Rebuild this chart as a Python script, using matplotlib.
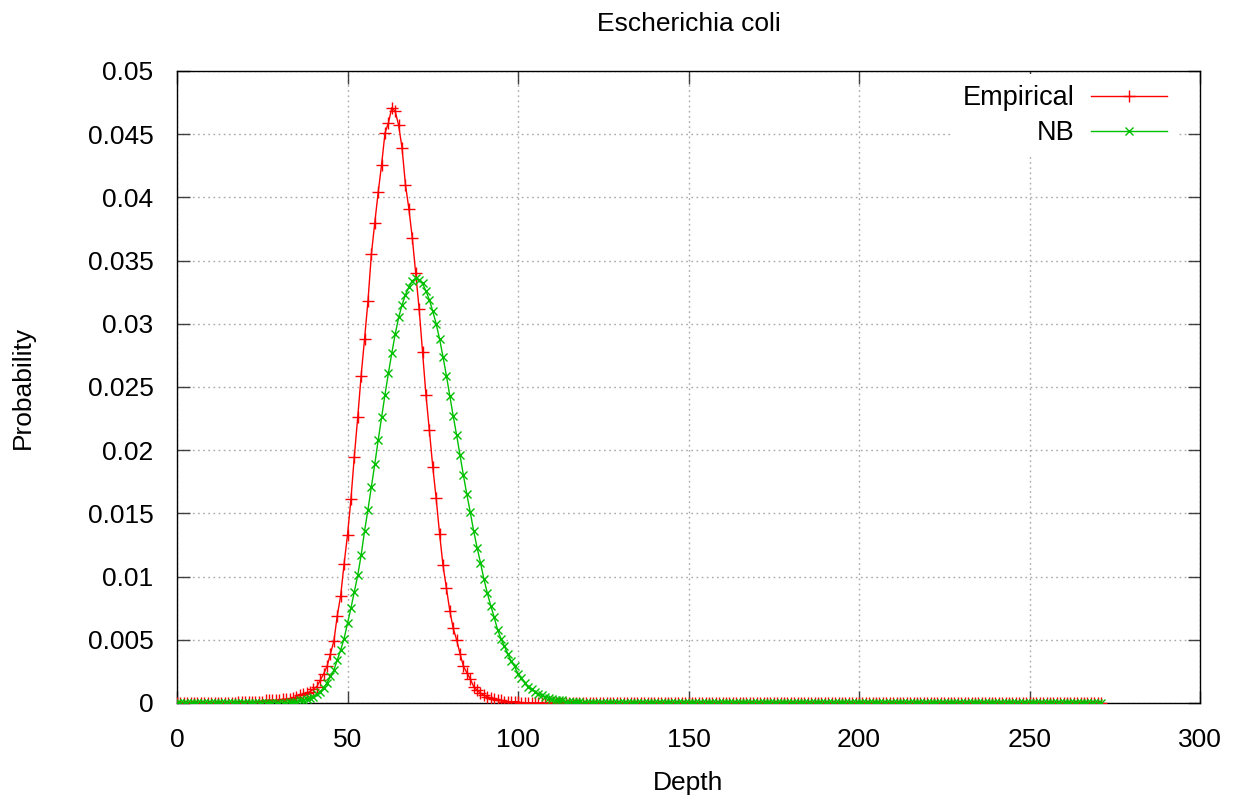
import numpy as np
import matplotlib
matplotlib.use("Agg")
import matplotlib.pyplot as plt

plt.rcParams['font.family'] = ['Liberation Sans', 'DejaVu Sans']

title = "Escherichia coli"
x_label = "Depth"
y_label = "Probability"
series_names = ["Empirical", "NB"]

depth = list(range(0, 272))

empirical = [
    0, 0, 0, 0, 0, 0, 0, 0, 0, 0,
    0, 0, 0, 0, 0, 0, 0, 0, 0.0001, 0.0001,
    0.0001, 0.0001, 0.0001, 0.0001, 0.0001, 0.0001, 0.0002, 0.0002, 0.0002, 0.0002,
    0.0002, 0.0003, 0.0003, 0.0003, 0.0004, 0.0005, 0.0006, 0.0007, 0.0008, 0.0009,
    0.0011, 0.0013, 0.0018, 0.0023, 0.0029, 0.0039, 0.0049, 0.0069, 0.0085, 0.0110,
    0.0133, 0.0161, 0.0195, 0.0226, 0.0259, 0.0288, 0.0318, 0.0355, 0.0380, 0.0404,
    0.0426, 0.0451, 0.0459, 0.0471, 0.0468, 0.0457, 0.0439, 0.0410, 0.0391, 0.0368,
    0.0340, 0.0312, 0.0278, 0.0244, 0.0216, 0.0187, 0.0162, 0.0134, 0.0109, 0.0091,
    0.0073, 0.0059, 0.0050, 0.0039, 0.0029, 0.0024, 0.0019, 0.0013, 0.0010, 0.0008,
    0.0006, 0.0005, 0.0004, 0.0003, 0.0002, 0.0002, 0.0001, 0.0001, 0.0001, 0.0001,
    0.0001, 0, 0, 0, 0, 0, 0, 0, 0, 0,
    0, 0, 0, 0, 0, 0, 0, 0, 0, 0,
    0, 0, 0, 0, 0, 0, 0, 0, 0, 0,
    0, 0, 0, 0, 0, 0, 0, 0, 0, 0,
    0, 0, 0, 0, 0, 0, 0, 0, 0, 0,
    0, 0, 0, 0, 0, 0, 0, 0, 0, 0,
    0, 0, 0, 0, 0, 0, 0, 0, 0, 0,
    0, 0, 0, 0, 0, 0, 0, 0, 0, 0,
    0, 0, 0, 0, 0, 0, 0, 0, 0, 0,
    0, 0, 0, 0, 0, 0, 0, 0, 0, 0,
    0, 0, 0, 0, 0, 0, 0, 0, 0, 0,
    0, 0, 0, 0, 0, 0, 0, 0, 0, 0,
    0, 0, 0, 0, 0, 0, 0, 0, 0, 0,
    0, 0, 0, 0, 0, 0, 0, 0, 0, 0,
    0, 0, 0, 0, 0, 0, 0, 0, 0, 0,
    0, 0, 0, 0, 0, 0, 0, 0, 0, 0,
    0, 0, 0, 0, 0, 0, 0, 0, 0, 0,
    0, 0,
]

nb = [
    0, 0, 0, 0, 0, 0, 0, 0, 0, 0,
    0, 0, 0, 0, 0, 0, 0, 0, 0, 0,
    0, 0, 0, 0, 0, 0, 0, 0, 0, 0,
    0, 0, 0, 0.0001, 0.0001, 0.0001, 0.0002, 0.0002, 0.0003, 0.0004,
    0.0005, 0.0007, 0.0009, 0.0012, 0.0016, 0.0021, 0.0026, 0.0034, 0.0042, 0.0051,
    0.0063, 0.0075, 0.0088, 0.0101, 0.0117, 0.0136, 0.0153, 0.0171, 0.0189, 0.0208,
    0.0226, 0.0244, 0.0261, 0.0277, 0.0292, 0.0305, 0.0315, 0.0323, 0.0329, 0.0334,
    0.0336, 0.0335, 0.0332, 0.0326, 0.0319, 0.0310, 0.0300, 0.0288, 0.0274, 0.0259,
    0.0243, 0.0227, 0.0212, 0.0196, 0.0180, 0.0165, 0.0151, 0.0136, 0.0123, 0.0111,
    0.0098, 0.0087, 0.0077, 0.0068, 0.0058, 0.0051, 0.0045, 0.0039, 0.0033, 0.0029,
    0.0023, 0.0020, 0.0016, 0.0013, 0.0011, 0.0009, 0.0007, 0.0006, 0.0005, 0.0004,
    0.0003, 0.0002, 0.0002, 0.0002, 0.0001, 0.0001, 0.0001, 0.0001, 0.0001, 0,
    0, 0, 0, 0, 0, 0, 0, 0, 0, 0,
    0, 0, 0, 0, 0, 0, 0, 0, 0, 0,
    0, 0, 0, 0, 0, 0, 0, 0, 0, 0,
    0, 0, 0, 0, 0, 0, 0, 0, 0, 0,
    0, 0, 0, 0, 0, 0, 0, 0, 0, 0,
    0, 0, 0, 0, 0, 0, 0, 0, 0, 0,
    0, 0, 0, 0, 0, 0, 0, 0, 0, 0,
    0, 0, 0, 0, 0, 0, 0, 0, 0, 0,
    0, 0, 0, 0, 0, 0, 0, 0, 0, 0,
    0, 0, 0, 0, 0, 0, 0, 0, 0, 0,
    0, 0, 0, 0, 0, 0, 0, 0, 0, 0,
    0, 0, 0, 0, 0, 0, 0, 0, 0, 0,
    0, 0, 0, 0, 0, 0, 0, 0, 0, 0,
    0, 0, 0, 0, 0, 0, 0, 0, 0, 0,
    0, 0, 0, 0, 0, 0, 0, 0, 0, 0,
    0, 0,
]

x_ticks = [0, 50, 100, 150, 200, 250, 300]
y_ticks = [0, 0.005, 0.01, 0.015, 0.02, 0.025, 0.03, 0.035, 0.04, 0.045, 0.05]
y_tick_labels = ["0", "0.005", "0.01", "0.015", "0.02", "0.025", "0.03",
                 "0.035", "0.04", "0.045", "0.05"]

W, H = 1238, 801
fig = plt.figure(figsize=(W / 100, H / 100), dpi=100)
ax = fig.add_axes([177 / W, 1 - 703 / H, (1200 - 177) / W, (703 - 71) / H])

ax.plot(depth, empirical, color="#ff0000", lw=1.0, marker="+", ms=9,
        mew=1.0, label=series_names[0], zorder=3)
ax.plot(depth, nb, color="#00c000", lw=1.0, marker="x", ms=6,
        mew=1.0, label=series_names[1], zorder=3)

ax.set_xlim(0, 300)
ax.set_ylim(0, 0.05)
ax.set_xticks(x_ticks)
ax.set_xticklabels([str(t) for t in x_ticks])
ax.set_yticks(y_ticks)
ax.set_yticklabels(y_tick_labels)

ax.grid(True, color="#a8a8a8", linestyle=(0, (1.2, 2.5)), lw=1.0)
ax.set_axisbelow(True)

ax.tick_params(direction="in", length=9, width=1, top=True, right=True,
               labelsize=19, color="#404040")
ax.tick_params(axis="x", pad=18)
ax.tick_params(axis="y", pad=17)
for s in ax.spines.values():
    s.set_linewidth(1.0)
    s.set_color("black")

ax.set_title(title, fontsize=19, pad=29)
ax.set_xlabel(x_label, fontsize=19, labelpad=14)
ax.set_ylabel(y_label, fontsize=19, labelpad=38)

leg = ax.legend(loc="upper right", bbox_to_anchor=(0.978, 0.9945),
                markerfirst=False, frameon=True,
                fancybox=False, framealpha=1.0, edgecolor="none",
                fontsize=19.5, handlelength=2.8, borderaxespad=0.0,
                labelspacing=0.33, handletextpad=0.6, borderpad=0.4)
for t in leg.get_texts():
    t.set_ha("right")
leg.set_zorder(5)

fig.savefig("out.png", dpi=100)
